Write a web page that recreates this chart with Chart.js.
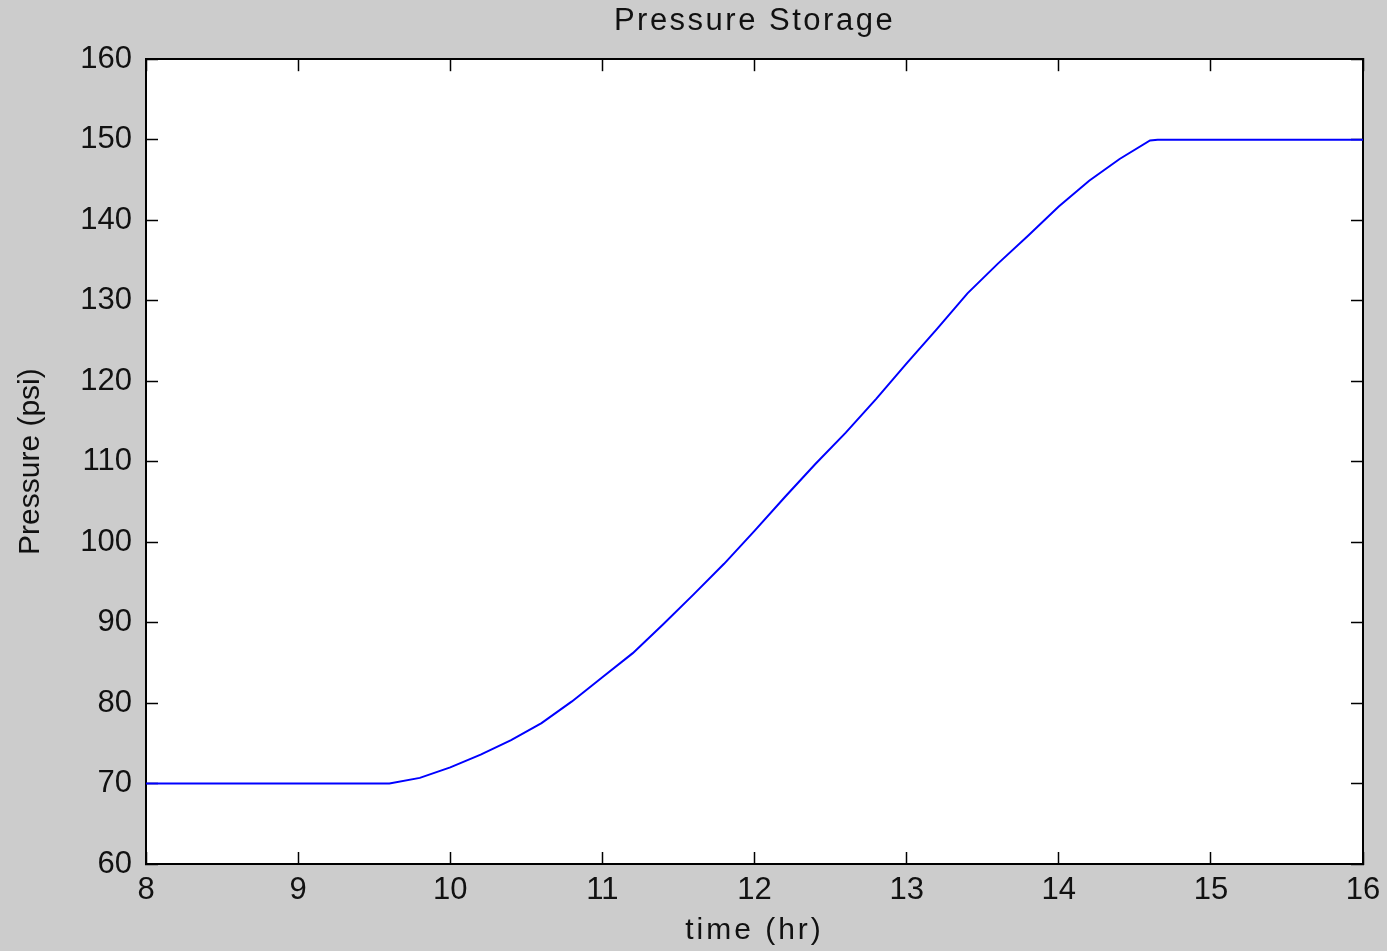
<!DOCTYPE html>
<html>
<head>
<meta charset="utf-8">
<title>Pressure Storage</title>
<script src="https://cdn.jsdelivr.net/npm/chart.js@4.4.1/dist/chart.umd.min.js"></script>
<style>
	html, body { margin: 0; padding: 0; background: #cccccc; }
	#wrap { position: relative; width: 1387px; height: 951px; }
</style>
</head>
<body>
<div id="wrap"><canvas id="pressureChart"></canvas></div>
<script>
// storage pressure over the day
const hours = [8, 9.6, 9.8, 10, 10.2, 10.4, 10.6, 10.8, 11, 11.2, 11.4, 11.6, 11.8, 12, 12.2, 12.4, 12.6, 12.8, 13, 13.2, 13.4, 13.6, 13.8, 14, 14.2, 14.4, 14.6, 14.65, 16];
const pressure = [70, 70, 70.7, 72.0, 73.6, 75.4, 77.5, 80.2, 83.2, 86.2, 89.8, 93.5, 97.3, 101.4, 105.6, 109.7, 113.6, 117.8, 122.2, 126.5, 130.9, 134.6, 138.1, 141.7, 144.9, 147.6, 149.9, 150, 150];

const xRange = { min: 8, max: 16, step: 1 };
const yRange = { min: 60, max: 160, step: 10 };

const black = '#000';
const fontFamily = 'Liberation Sans, Arial, sans-serif';
const tickFont = { family: fontFamily, size: 31 };
const labelFont = { family: fontFamily, size: 30 };

// white plot box on the grey figure
const plotBackground = {
	id: 'plotBackground',
	beforeDraw(chart) {
		const { ctx, chartArea: a } = chart;
		ctx.save();
		ctx.fillStyle = '#fff';
		ctx.fillRect(a.left, a.top, a.right - a.left, a.bottom - a.top);
		ctx.restore();
	}
};

function withSpacing(obj, fn, spacing)
{
	const orig = obj[fn];
	obj[fn] = function () {
		const prev = this.ctx.letterSpacing;
		this.ctx.letterSpacing = spacing;
		orig.apply(this, arguments);
		this.ctx.letterSpacing = prev;
	};
}

// the title and x label are set a bit looser
const spacedText = {
	id: 'spacedText',
	beforeDraw(chart) {
		if (chart.$spaced) return;
		chart.$spaced = true;
		withSpacing(chart.titleBlock, 'draw', '2.5px');
		withSpacing(chart.scales.x, 'drawTitle', '3px');
	}
};

// inward tick marks on every side of the box
function boxAxis(range, position, showLabels, padding, extra)
{
	return Object.assign({
		type: 'linear',
		position: position,
		min: range.min,
		max: range.max,
		grid: { drawOnChartArea: false, tickLength: -12, tickColor: black, tickWidth: 1.5 },
		border: { color: black, width: 2 },
		ticks: {
			display: showLabels,
			stepSize: range.step,
			padding: padding,
			color: '#111',
			font: tickFont,
			autoSkip: false,
			maxRotation: 0
		}
	}, extra);
}

const ctx = document.getElementById('pressureChart').getContext('2d');
new Chart(ctx, {
	type: 'line',
	data: {
		datasets: [{
			data: hours.map((h, i) => ({ x: h, y: pressure[i] })),
			borderColor: '#0000ff',
			borderWidth: 2,
			pointRadius: 0,
			tension: 0,
			xAxisID: 'x',
			yAxisID: 'y'
		}]
	},
	options: {
		responsive: true,
		maintainAspectRatio: false,
		animation: false,
		layout: { padding: { left: 0, right: 24, top: 0, bottom: 0 } },
		plugins: {
			legend: { display: false },
			tooltip: { enabled: false },
			title: {
				display: true,
				text: 'Pressure Storage',
				color: '#111',
				fullSize: false,
				font: { family: fontFamily, size: 31, weight: 'normal' },
				padding: { top: 3, bottom: 19 }
			}
		},
		scales: {
			x: boxAxis(xRange, 'bottom', true, 20, {
				title: { display: true, text: 'time (hr)', color: '#111', font: labelFont, padding: { top: 0, bottom: 2 } },
				afterFit(scale) {
					scale.height = 87;
					// end labels fit inside the margins already
					scale.paddingLeft = 0;
					scale.paddingRight = 0;
				}
			}),
			y: boxAxis(yRange, 'left', true, 26, {
				title: { display: true, text: 'Pressure (psi)', color: '#111', font: labelFont, padding: { top: 13, bottom: 0 } },
				afterFit(scale) {
					scale.width = 146;
					scale.paddingTop = 0;
					scale.paddingBottom = 0;
				}
			}),
			x2: boxAxis(xRange, 'top', false, 0, {
				afterFit(scale) { scale.height = 0; }
			}),
			y2: boxAxis(yRange, 'right', false, 0, {
				afterFit(scale) { scale.width = 0; }
			})
		}
	},
	plugins: [plotBackground, spacedText]
});
</script>
</body>
</html>
